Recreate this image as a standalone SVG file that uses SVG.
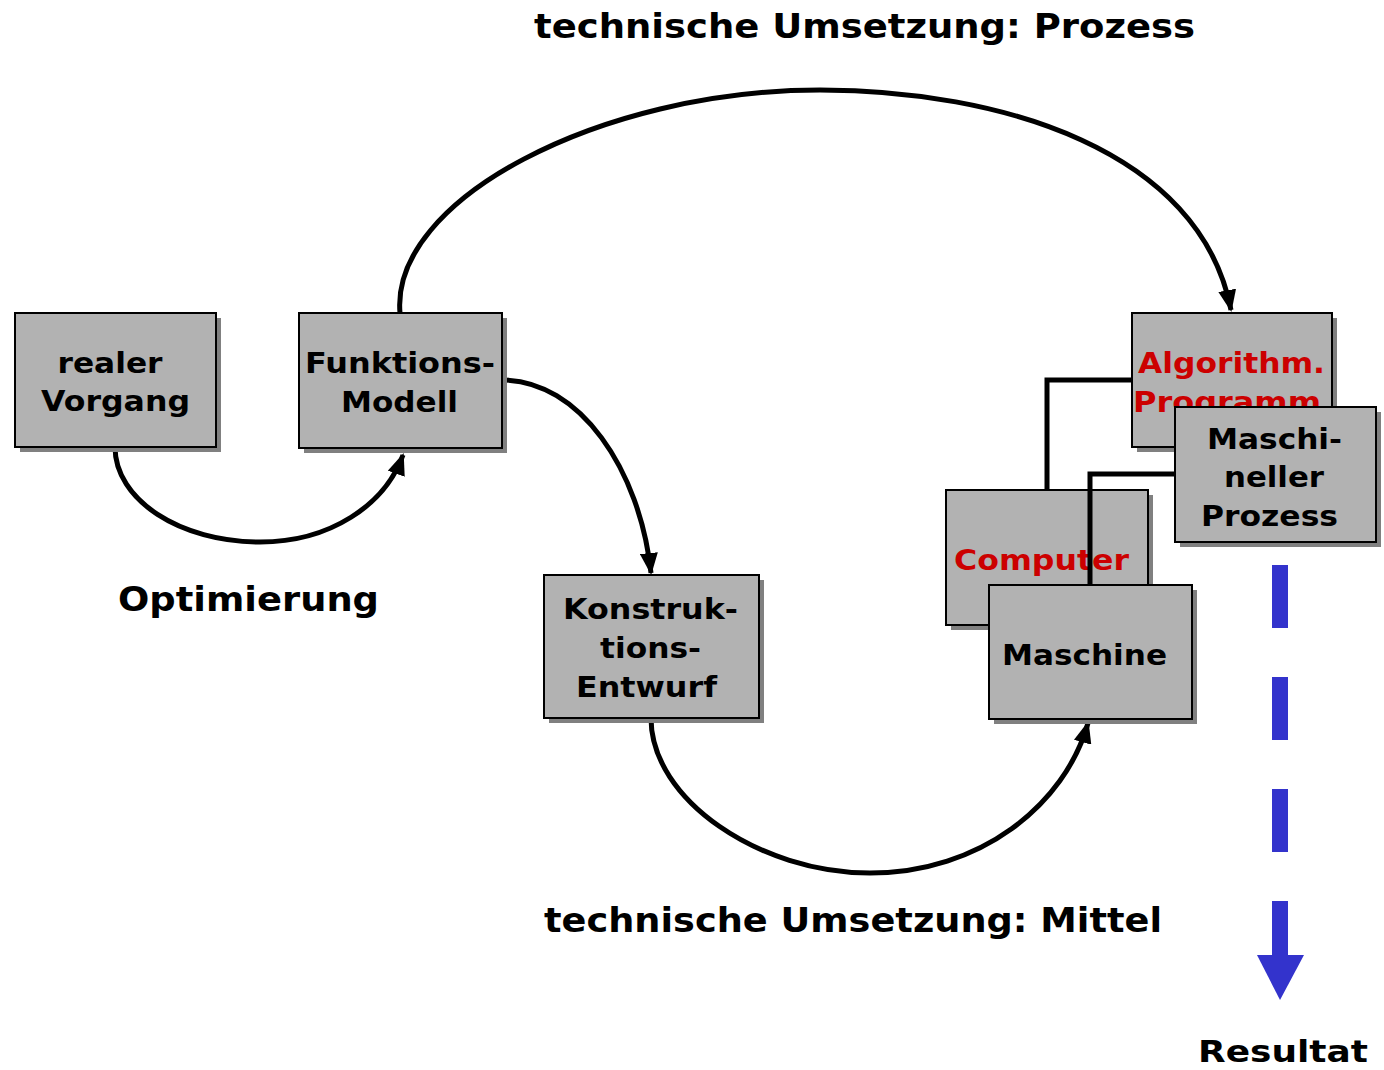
<svg xmlns="http://www.w3.org/2000/svg" width="1384" height="1070" viewBox="0 0 1384 1070">
<style>
.box{fill:#b2b2b2;stroke:#000;stroke-width:2}
.sh{fill:#808080}
.t{font-family:"DejaVu Sans","Verdana",sans-serif;font-weight:bold;font-size:28px;text-anchor:middle;fill:#000}
.red{fill:#cc0000}
.big{font-size:33px}
.res{font-size:31px}
.con{fill:none;stroke:#000;stroke-width:5}
.link{fill:none;stroke:#000;stroke-width:5}
</style>
<defs>
<marker id="ah" viewBox="0 0 22 18" refX="20" refY="9" markerWidth="22" markerHeight="18" markerUnits="userSpaceOnUse" orient="auto">
<path d="M0,0 L22,9 L0,18 Z" fill="#000"/>
</marker>
</defs>
<rect width="1384" height="1070" fill="#fff"/>

<g id="connectors">
<path class="con" d="M115,447 C115,500 180,542 260,542 C330,542 385,505 403,455" marker-end="url(#ah)"/>
<path class="con" d="M400,313 C390,200 600,90 820,90 C1000,90 1200,150 1231,310" marker-end="url(#ah)"/>
<path class="con" d="M502,380 C580,380 640,470 651,573" marker-end="url(#ah)"/>
<path class="con" d="M651,718 C651,800 760,873 870,873 C980,873 1065,805 1088,723" marker-end="url(#ah)"/>
</g>

<g id="realer-vorgang">
<rect class="sh" x="20" y="318" width="201" height="134"/>
<rect class="box" x="15" y="313" width="201" height="134"/>
<text class="t" x="110" y="373" textLength="105" lengthAdjust="spacingAndGlyphs">realer</text>
<text class="t" x="115.5" y="411" textLength="149" lengthAdjust="spacingAndGlyphs">Vorgang</text>
</g>

<g id="funktions-modell">
<rect class="sh" x="304" y="318" width="203" height="135"/>
<rect class="box" x="299" y="313" width="203" height="135"/>
<text class="t" x="400" y="373" textLength="190" lengthAdjust="spacingAndGlyphs">Funktions-</text>
<text class="t" x="399.5" y="412" textLength="117" lengthAdjust="spacingAndGlyphs">Modell</text>
</g>

<g id="konstruktions-entwurf">
<rect class="sh" x="549" y="580" width="215" height="143"/>
<rect class="box" x="544" y="575" width="215" height="143"/>
<text class="t" x="650.5" y="619" textLength="175" lengthAdjust="spacingAndGlyphs">Konstruk-</text>
<text class="t" x="650.5" y="658" textLength="101" lengthAdjust="spacingAndGlyphs">tions-</text>
<text class="t" x="646.5" y="697" textLength="141" lengthAdjust="spacingAndGlyphs">Entwurf</text>
</g>

<g id="algorithm-programm">
<rect class="sh" x="1137" y="318" width="200" height="134"/>
<rect class="box" x="1132" y="313" width="200" height="134"/>
<text class="t red" x="1231.5" y="373" textLength="187" lengthAdjust="spacingAndGlyphs">Algorithm.</text>
<text class="t red" x="1227" y="412" textLength="188" lengthAdjust="spacingAndGlyphs">Programm</text>
</g>

<g id="maschineller-prozess">
<rect class="sh" x="1180" y="412" width="201" height="135"/>
<rect class="box" x="1175" y="407" width="201" height="135"/>
<text class="t" x="1274.5" y="449" textLength="135" lengthAdjust="spacingAndGlyphs">Maschi-</text>
<text class="t" x="1274" y="487" textLength="100" lengthAdjust="spacingAndGlyphs">neller</text>
<text class="t" x="1269.5" y="526" textLength="137" lengthAdjust="spacingAndGlyphs">Prozess</text>
</g>

<g id="computer">
<rect class="sh" x="951" y="495" width="202" height="135"/>
<rect class="box" x="946" y="490" width="202" height="135"/>
<text class="t red" x="1041.5" y="570" textLength="175" lengthAdjust="spacingAndGlyphs">Computer</text>
</g>

<g id="links">
<polyline class="link" points="1132,380 1047,380 1047,490"/>
<polyline class="link" points="1175,474 1090,474 1090,585"/>
</g>

<g id="maschine">
<rect class="sh" x="994" y="590" width="203" height="134"/>
<rect class="box" x="989" y="585" width="203" height="134"/>
<text class="t" x="1084.5" y="665" textLength="165" lengthAdjust="spacingAndGlyphs">Maschine</text>
</g>

<g id="resultat-arrow">
<rect x="1272" y="565" width="16" height="63" fill="#3333cc"/>
<rect x="1272" y="677" width="16" height="63" fill="#3333cc"/>
<rect x="1272" y="789" width="16" height="63" fill="#3333cc"/>
<rect x="1272" y="901" width="16" height="55" fill="#3333cc"/>
<path d="M1257,955 L1304,955 L1280,1000 Z" fill="#3333cc"/>
</g>

<g id="labels">
<text class="t big" x="864.5" y="38" textLength="661" lengthAdjust="spacingAndGlyphs">technische Umsetzung: Prozess</text>
<text class="t big" x="248.5" y="611" textLength="261" lengthAdjust="spacingAndGlyphs">Optimierung</text>
<text class="t big" x="853" y="932" textLength="618" lengthAdjust="spacingAndGlyphs">technische Umsetzung: Mittel</text>
<text class="t res" x="1283" y="1062" textLength="170" lengthAdjust="spacingAndGlyphs">Resultat</text>
</g>
</svg>
